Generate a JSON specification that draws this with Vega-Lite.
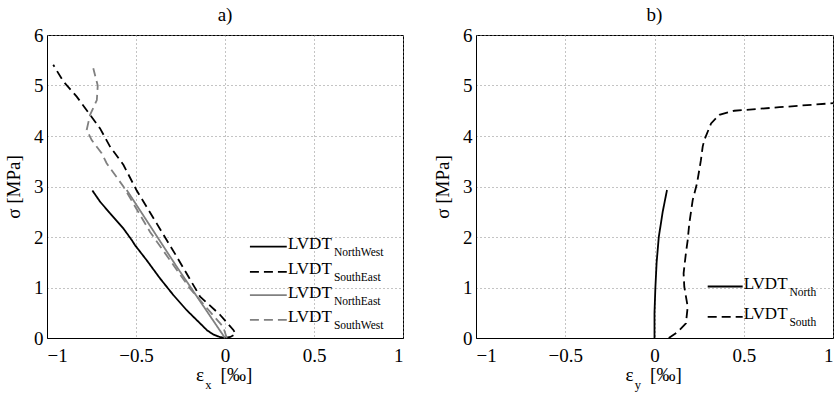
{
  "$schema": "https://vega.github.io/schema/vega-lite/v6.json",
  "padding": {"left": 3, "top": 5, "right": 0, "bottom": 0},
  "background": "white",
  "config": {
    "font": "'Liberation Serif', 'Times New Roman', serif",
    "view": {"stroke": "#000", "strokeWidth": 1},
    "text": {"font": "'Liberation Serif', 'Times New Roman', serif", "color": "#000"},
    "style": {
      "guide-label": {"font": "'Liberation Serif', 'Times New Roman', serif", "fontSize": 19, "fill": "#000"},
      "guide-title": {"font": "'Liberation Serif', 'Times New Roman', serif", "fontSize": 19, "fill": "#000"}
    },
    "axis": {
      "domainColor": "#000", "domainWidth": 1,
      "grid": true, "gridColor": "#888", "gridDash": [1, 3], "gridWidth": 1, "gridOpacity": 1,
      "ticks": false,
      "labelFont": "'Liberation Serif', 'Times New Roman', serif", "labelFontSize": 19, "labelColor": "#000", "labelPadding": 8,
      "titleFont": "'Liberation Serif', 'Times New Roman', serif", "titleFontSize": 19, "titleFontWeight": "normal", "titleColor": "#000", "titlePadding": 2
    },
    "axisY": {"labelPadding": 4, "titlePadding": 8, "minExtent": 16, "maxExtent": 16},
    "title": {"font": "'Liberation Serif', 'Times New Roman', serif", "fontSize": 19, "fontWeight": "normal", "color": "#000", "offset": 0, "dy": 3},
    "concat": {"spacing": 28}
  },
  "datasets": {
    "left": [
      {"series": "NorthWest", "i": 0, "x": 0.0, "y": 0.0},
      {"series": "NorthWest", "i": 1, "x": -0.03, "y": 0.02},
      {"series": "NorthWest", "i": 2, "x": -0.066, "y": 0.07},
      {"series": "NorthWest", "i": 3, "x": -0.1, "y": 0.15},
      {"series": "NorthWest", "i": 4, "x": -0.14, "y": 0.29},
      {"series": "NorthWest", "i": 5, "x": -0.215, "y": 0.55},
      {"series": "NorthWest", "i": 6, "x": -0.29, "y": 0.85},
      {"series": "NorthWest", "i": 7, "x": -0.365, "y": 1.18},
      {"series": "NorthWest", "i": 8, "x": -0.44, "y": 1.54},
      {"series": "NorthWest", "i": 9, "x": -0.506, "y": 1.84},
      {"series": "NorthWest", "i": 10, "x": -0.524, "y": 1.94},
      {"series": "NorthWest", "i": 11, "x": -0.571, "y": 2.17},
      {"series": "NorthWest", "i": 12, "x": -0.646, "y": 2.47},
      {"series": "NorthWest", "i": 13, "x": -0.702, "y": 2.7},
      {"series": "NorthWest", "i": 14, "x": -0.745, "y": 2.92},
      {"series": "SouthEast", "i": 0, "x": 0.0, "y": 0.0},
      {"series": "SouthEast", "i": 1, "x": 0.03, "y": 0.02},
      {"series": "SouthEast", "i": 2, "x": 0.06, "y": 0.08},
      {"series": "SouthEast", "i": 3, "x": 0.047, "y": 0.16},
      {"series": "SouthEast", "i": 4, "x": -0.028, "y": 0.46},
      {"series": "SouthEast", "i": 5, "x": -0.14, "y": 0.82},
      {"series": "SouthEast", "i": 6, "x": -0.271, "y": 1.61},
      {"series": "SouthEast", "i": 7, "x": -0.384, "y": 2.27},
      {"series": "SouthEast", "i": 8, "x": -0.496, "y": 2.92},
      {"series": "SouthEast", "i": 9, "x": -0.571, "y": 3.43},
      {"series": "SouthEast", "i": 10, "x": -0.646, "y": 3.79},
      {"series": "SouthEast", "i": 11, "x": -0.702, "y": 4.15},
      {"series": "SouthEast", "i": 12, "x": -0.758, "y": 4.42},
      {"series": "SouthEast", "i": 13, "x": -0.833, "y": 4.78},
      {"series": "SouthEast", "i": 14, "x": -0.908, "y": 5.08},
      {"series": "SouthEast", "i": 15, "x": -0.965, "y": 5.41},
      {"series": "NorthEast", "i": 0, "x": 0.0, "y": 0.0},
      {"series": "NorthEast", "i": 1, "x": -0.271, "y": 1.41},
      {"series": "NorthEast", "i": 2, "x": -0.552, "y": 2.93},
      {"series": "SouthWest", "i": 0, "x": 0.01, "y": 0.0},
      {"series": "SouthWest", "i": 1, "x": -0.01, "y": 0.22},
      {"series": "SouthWest", "i": 2, "x": -0.197, "y": 0.98},
      {"series": "SouthWest", "i": 3, "x": -0.421, "y": 2.1},
      {"series": "SouthWest", "i": 4, "x": -0.571, "y": 3.0},
      {"series": "SouthWest", "i": 5, "x": -0.665, "y": 3.46},
      {"series": "SouthWest", "i": 6, "x": -0.693, "y": 3.66},
      {"series": "SouthWest", "i": 7, "x": -0.749, "y": 3.92},
      {"series": "SouthWest", "i": 8, "x": -0.777, "y": 4.12},
      {"series": "SouthWest", "i": 9, "x": -0.758, "y": 4.42},
      {"series": "SouthWest", "i": 10, "x": -0.72, "y": 4.71},
      {"series": "SouthWest", "i": 11, "x": -0.715, "y": 5.0},
      {"series": "SouthWest", "i": 12, "x": -0.74, "y": 5.34}
    ],
    "right": [
      {"series": "North", "i": 0, "x": 0.0, "y": 0.0},
      {"series": "North", "i": 1, "x": 0.0, "y": 0.5},
      {"series": "North", "i": 2, "x": 0.005, "y": 1.0},
      {"series": "North", "i": 3, "x": 0.012, "y": 1.5},
      {"series": "North", "i": 4, "x": 0.024, "y": 2.0},
      {"series": "North", "i": 5, "x": 0.046, "y": 2.5},
      {"series": "North", "i": 6, "x": 0.07, "y": 2.93},
      {"series": "South", "i": 0, "x": 0.08, "y": 0.0},
      {"series": "South", "i": 1, "x": 0.13, "y": 0.12},
      {"series": "South", "i": 2, "x": 0.176, "y": 0.29},
      {"series": "South", "i": 3, "x": 0.186, "y": 0.62},
      {"series": "South", "i": 4, "x": 0.167, "y": 1.01},
      {"series": "South", "i": 5, "x": 0.163, "y": 1.28},
      {"series": "South", "i": 6, "x": 0.176, "y": 1.68},
      {"series": "South", "i": 7, "x": 0.186, "y": 1.94},
      {"series": "South", "i": 8, "x": 0.195, "y": 2.27},
      {"series": "South", "i": 9, "x": 0.214, "y": 2.73},
      {"series": "South", "i": 10, "x": 0.238, "y": 3.06},
      {"series": "South", "i": 11, "x": 0.26, "y": 3.52},
      {"series": "South", "i": 12, "x": 0.27, "y": 3.79},
      {"series": "South", "i": 13, "x": 0.279, "y": 3.92},
      {"series": "South", "i": 14, "x": 0.317, "y": 4.25},
      {"series": "South", "i": 15, "x": 0.363, "y": 4.42},
      {"series": "South", "i": 16, "x": 0.447, "y": 4.5},
      {"series": "South", "i": 17, "x": 0.7, "y": 4.57},
      {"series": "South", "i": 18, "x": 1.0, "y": 4.65}
    ]
  },
  "hconcat": [
    {
      "width": 356,
      "height": 303,
      "title": "a)",
      "layer": [
        {
          "data": {"name": "left"},
          "mark": {"type": "line", "strokeWidth": 1.8},
          "encoding": {
            "x": {"field": "x", "type": "quantitative", "scale": {"domain": [-1, 1], "nice": false},
                  "axis": {"values": [-1, -0.5, 0, 0.5, 1], "format": "~g", "title": null}},
            "y": {"field": "y", "type": "quantitative", "scale": {"domain": [0, 6], "nice": false},
                  "axis": {"values": [0, 1, 2, 3, 4, 5, 6], "format": "d", "title": "σ [MPa]"}},
            "color": {"field": "series", "type": "nominal",
                      "scale": {"domain": ["NorthWest", "SouthEast", "NorthEast", "SouthWest"], "range": ["#000000", "#000000", "#808080", "#808080"]},
                      "legend": null},
            "strokeDash": {"field": "series", "type": "nominal",
                           "scale": {"domain": ["NorthWest", "SouthEast", "NorthEast", "SouthWest"], "range": [[1, 0], [9, 5], [1, 0], [9, 5]]},
                           "legend": null},
            "order": {"field": "i"}
          }
        },
        {
          "data": {"values": [{"a": "ε", "b": "x", "c": "[‰]"}]},
          "layer": [
            {"mark": {"type": "text", "fontSize": 19, "baseline": "middle", "align": "center"},
             "encoding": {"x": {"datum": -0.14}, "y": {"datum": -0.74}, "text": {"field": "a"}}},
            {"mark": {"type": "text", "fontSize": 12.5, "baseline": "middle", "align": "center"},
             "encoding": {"x": {"datum": -0.093}, "y": {"datum": -0.93}, "text": {"field": "b"}}},
            {"mark": {"type": "text", "fontSize": 19, "baseline": "middle", "align": "center"},
             "encoding": {"x": {"datum": 0.064}, "y": {"datum": -0.73}, "text": {"field": "c"}}}
          ]
        },
        {
          "data": {"values": [{"name": "LVDT", "sub": "NorthWest"}]},
          "encoding": {"y": {"datum": 1.81}},
          "layer": [
            {"mark": {"type": "rule", "color": "#000000", "strokeWidth": 1.8}, "encoding": {"x": {"datum": 0.14}, "x2": {"datum": 0.347}}},
            {"mark": {"type": "text", "align": "left", "baseline": "alphabetic", "dy": 2.5, "fontSize": 17}, "encoding": {"x": {"datum": 0.354}, "text": {"field": "name"}}},
            {"mark": {"type": "text", "align": "left", "baseline": "alphabetic", "dy": 9.5, "fontSize": 11.5}, "encoding": {"x": {"datum": 0.612}, "text": {"field": "sub"}}}
          ]
        },
        {
          "data": {"values": [{"name": "LVDT", "sub": "SouthEast"}]},
          "encoding": {"y": {"datum": 1.31}},
          "layer": [
            {"mark": {"type": "rule", "color": "#000000", "strokeWidth": 1.8, "strokeDash": [9, 5]}, "encoding": {"x": {"datum": 0.14}, "x2": {"datum": 0.347}}},
            {"mark": {"type": "text", "align": "left", "baseline": "alphabetic", "dy": 2.5, "fontSize": 17}, "encoding": {"x": {"datum": 0.354}, "text": {"field": "name"}}},
            {"mark": {"type": "text", "align": "left", "baseline": "alphabetic", "dy": 9.5, "fontSize": 11.5}, "encoding": {"x": {"datum": 0.612}, "text": {"field": "sub"}}}
          ]
        },
        {
          "data": {"values": [{"name": "LVDT", "sub": "NorthEast"}]},
          "encoding": {"y": {"datum": 0.85}},
          "layer": [
            {"mark": {"type": "rule", "color": "#808080", "strokeWidth": 1.8}, "encoding": {"x": {"datum": 0.14}, "x2": {"datum": 0.347}}},
            {"mark": {"type": "text", "align": "left", "baseline": "alphabetic", "dy": 2.5, "fontSize": 17}, "encoding": {"x": {"datum": 0.354}, "text": {"field": "name"}}},
            {"mark": {"type": "text", "align": "left", "baseline": "alphabetic", "dy": 9.5, "fontSize": 11.5}, "encoding": {"x": {"datum": 0.612}, "text": {"field": "sub"}}}
          ]
        },
        {
          "data": {"values": [{"name": "LVDT", "sub": "SouthWest"}]},
          "encoding": {"y": {"datum": 0.36}},
          "layer": [
            {"mark": {"type": "rule", "color": "#808080", "strokeWidth": 1.8, "strokeDash": [9, 5]}, "encoding": {"x": {"datum": 0.14}, "x2": {"datum": 0.347}}},
            {"mark": {"type": "text", "align": "left", "baseline": "alphabetic", "dy": 2.5, "fontSize": 17}, "encoding": {"x": {"datum": 0.354}, "text": {"field": "name"}}},
            {"mark": {"type": "text", "align": "left", "baseline": "alphabetic", "dy": 9.5, "fontSize": 11.5}, "encoding": {"x": {"datum": 0.612}, "text": {"field": "sub"}}}
          ]
        }
      ]
    },
    {
      "width": 357,
      "height": 303,
      "title": "b)",
      "layer": [
        {
          "data": {"name": "right"},
          "mark": {"type": "line", "strokeWidth": 1.8, "color": "#000000"},
          "encoding": {
            "x": {"field": "x", "type": "quantitative", "scale": {"domain": [-1, 1], "nice": false},
                  "axis": {"values": [-1, -0.5, 0, 0.5, 1], "format": "~g", "title": null}},
            "y": {"field": "y", "type": "quantitative", "scale": {"domain": [0, 6], "nice": false},
                  "axis": {"values": [0, 1, 2, 3, 4, 5, 6], "format": "d", "title": "σ [MPa]"}},
            "strokeDash": {"field": "series", "type": "nominal",
                           "scale": {"domain": ["North", "South"], "range": [[1, 0], [9, 5]]},
                           "legend": null},
            "order": {"field": "i"}
          }
        },
        {
          "data": {"values": [{"a": "ε", "b": "y", "c": "[‰]"}]},
          "layer": [
            {"mark": {"type": "text", "fontSize": 19, "baseline": "middle", "align": "center"},
             "encoding": {"x": {"datum": -0.14}, "y": {"datum": -0.74}, "text": {"field": "a"}}},
            {"mark": {"type": "text", "fontSize": 12.5, "baseline": "middle", "align": "center"},
             "encoding": {"x": {"datum": -0.093}, "y": {"datum": -0.93}, "text": {"field": "b"}}},
            {"mark": {"type": "text", "fontSize": 19, "baseline": "middle", "align": "center"},
             "encoding": {"x": {"datum": 0.064}, "y": {"datum": -0.73}, "text": {"field": "c"}}}
          ]
        },
        {
          "data": {"values": [{"name": "LVDT", "sub": "North"}]},
          "encoding": {"y": {"datum": 1.02}},
          "layer": [
            {"mark": {"type": "rule", "color": "#000000", "strokeWidth": 1.8}, "encoding": {"x": {"datum": 0.298}, "x2": {"datum": 0.494}}},
            {"mark": {"type": "text", "align": "left", "baseline": "alphabetic", "dy": 2.5, "fontSize": 17}, "encoding": {"x": {"datum": 0.5}, "text": {"field": "name"}}},
            {"mark": {"type": "text", "align": "left", "baseline": "alphabetic", "dy": 9.5, "fontSize": 11.5}, "encoding": {"x": {"datum": 0.756}, "text": {"field": "sub"}}}
          ]
        },
        {
          "data": {"values": [{"name": "LVDT", "sub": "South"}]},
          "encoding": {"y": {"datum": 0.42}},
          "layer": [
            {"mark": {"type": "rule", "color": "#000000", "strokeWidth": 1.8, "strokeDash": [9, 5]}, "encoding": {"x": {"datum": 0.298}, "x2": {"datum": 0.494}}},
            {"mark": {"type": "text", "align": "left", "baseline": "alphabetic", "dy": 2.5, "fontSize": 17}, "encoding": {"x": {"datum": 0.5}, "text": {"field": "name"}}},
            {"mark": {"type": "text", "align": "left", "baseline": "alphabetic", "dy": 9.5, "fontSize": 11.5}, "encoding": {"x": {"datum": 0.756}, "text": {"field": "sub"}}}
          ]
        }
      ]
    }
  ]
}
